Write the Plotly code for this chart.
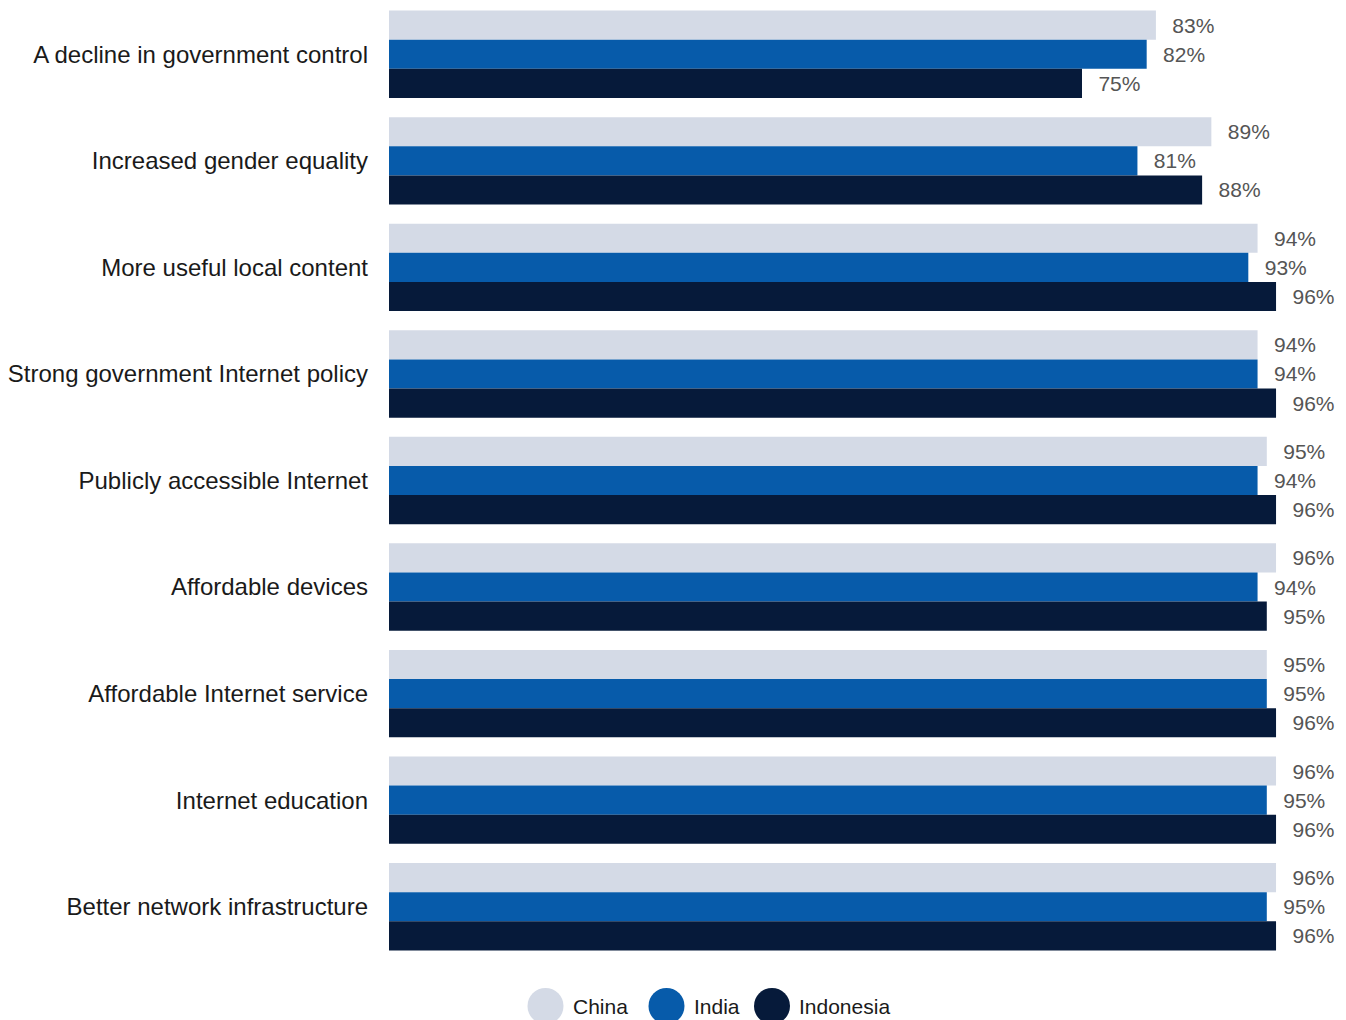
import plotly.graph_objects as go

categories = [
    "A decline in government control",
    "Increased gender equality",
    "More useful local content",
    "Strong government Internet policy",
    "Publicly accessible Internet",
    "Affordable devices",
    "Affordable Internet service",
    "Internet education",
    "Better network infrastructure",
]
series_names = ["China", "India", "Indonesia"]
china = [83, 89, 94, 94, 95, 96, 95, 96, 96]
india = [82, 81, 93, 94, 94, 94, 95, 95, 95]
indonesia = [75, 88, 96, 96, 96, 95, 96, 96, 96]
colors = ["#D4DAE6", "#075BAA", "#061A3A"]

W, H = 1346, 1020
ML, MR, MT, MB = 389, 33, 1, 60
plot_w = W - ML - MR
plot_h = H - MT - MB

fig = go.Figure()
for name, vals, col in zip(series_names, [china, india, indonesia], colors):
    fig.add_trace(go.Bar(
        name=name, y=categories, x=vals, orientation="h",
        marker=dict(color=col, line=dict(width=0)),
        text=[f"\u00a0\u00a0\u200a{v}%" for v in vals],
        textposition="outside",
        textfont=dict(family="Liberation Sans, Arial, sans-serif", size=21, color="#555555"),
        cliponaxis=False,
        showlegend=False,
        hoverinfo="skip",
    ))

# custom legend (circles + labels) below the plot
legend_px = [(545.5, 571), (666.5, 692), (772, 797)]
cy_px = 1006
y_paper = (H - MB - cy_px) / plot_h
shapes = []
annotations = []
for (cx, tx), name, col in zip(legend_px, series_names, colors):
    xp = (cx - ML) / plot_w
    shapes.append(dict(type="circle", xref="paper", yref="paper",
                       xsizemode="pixel", ysizemode="pixel",
                       xanchor=xp, yanchor=y_paper,
                       x0=-18, x1=18, y0=-18, y1=18,
                       fillcolor=col, line=dict(width=0)))
    annotations.append(dict(xref="paper", yref="paper", x=(tx - ML) / plot_w, y=y_paper,
                            xanchor="left", yanchor="middle", showarrow=False,
                            text=name,
                            font=dict(family="Liberation Sans, Arial, sans-serif", size=21, color="#1a1a1a")))

fig.update_layout(
    width=W, height=H,
    margin=dict(l=ML, r=MR, t=MT, b=MB, pad=0),
    paper_bgcolor="white", plot_bgcolor="white",
    barmode="group", bargap=0.18, bargroupgap=0,
    shapes=shapes, annotations=annotations,
    xaxis=dict(range=[0, 100], showgrid=False, zeroline=False, showticklabels=False,
               showline=False, ticks=""),
    yaxis=dict(autorange="reversed", showgrid=False, zeroline=False, showline=False,
               ticks="", ticklabelstandoff=20,
               tickfont=dict(family="Liberation Sans, Arial, sans-serif", size=24, color="#1a1a1a")),
)

fig.write_html("out.html")
